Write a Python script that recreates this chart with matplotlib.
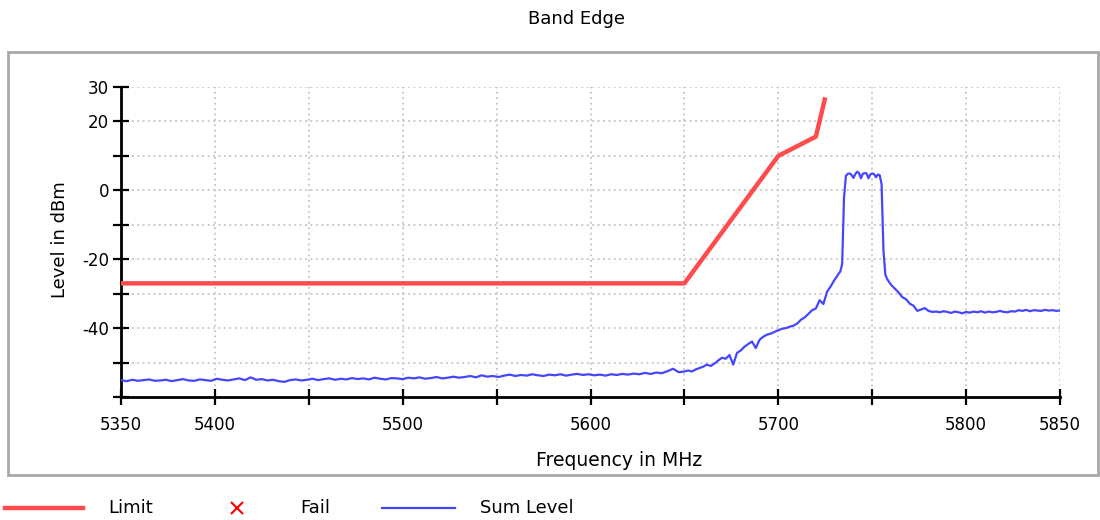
import matplotlib
matplotlib.use('Agg')
import matplotlib.pyplot as plt
import numpy as np
from matplotlib.lines import Line2D
from matplotlib.patches import Rectangle

RED = '#ff4b4b'
BLUE = '#4646ff'
GRID = '#c4c4c4'
BOX = '#a8a8a8'

plt.rcParams['font.family'] = 'DejaVu Sans'

# limit line
limit_freq = [5350, 5650, 5700, 5720, 5725]
limit_level = [-27, -27, 10, 15.6, 27]

freq_a = np.arange(5350, 5651, 3)
level_a = [-55.1, -55.4, -55.0, -55.3, -55.1, -54.9, -55.3, -55.2, -55.0, -55.4,
           -55.1, -54.8, -55.2, -55.3, -54.9, -55.1, -55.3, -54.7, -55.0, -55.2,
           -54.9, -54.6, -55.1, -54.3, -55.0, -54.8, -55.2, -55.0, -55.4, -55.6,
           -55.1, -54.9, -55.2, -55.0, -54.7, -55.1, -54.8, -54.6, -55.0, -54.7,
           -54.9, -54.5, -54.8, -54.6, -54.9, -54.4, -54.7, -54.9, -54.5, -54.6,
           -54.8, -54.4, -54.6, -54.3, -54.7, -54.5, -54.2, -54.6, -54.4, -54.1,
           -54.4, -54.2, -53.9, -54.3, -53.7, -54.1, -53.9, -54.2, -53.8, -53.5,
           -53.9, -53.6, -53.8, -53.4, -53.7, -53.9, -53.5, -53.7, -53.4, -53.8,
           -53.5, -53.3, -53.6, -53.4, -53.7, -53.5, -53.8, -53.4, -53.6, -53.3,
           -53.5, -53.2, -53.4, -53.0, -53.3, -52.9, -53.1, -52.5, -51.8, -52.8,
           -52.6]

freq_b = np.arange(5652, 5731, 2)
level_b = [-52.3, -52.6, -52.0, -51.6, -51.2, -50.6, -51.0, -50.3, -49.4, -48.6,
           -48.9, -47.8, -50.6, -47.2, -46.5, -45.4, -44.6, -43.9, -45.8, -43.4,
           -42.5, -41.9, -41.6, -41.1, -40.6, -40.2, -40.0, -39.6, -39.3, -38.7,
           -37.6, -36.9, -35.9, -34.8, -34.3, -31.9, -33.0, -29.4, -27.8, -25.9]

freq_c = np.arange(5731, 5761, 1)
level_c = [-25.2, -24.3, -23.6, -21.4, -2.0, 4.2, 4.8, 4.9, 4.5, 3.6,
           4.7, 5.4, 5.0, 3.5, 4.8, 5.0, 4.9, 3.5, 4.6, 4.9,
           4.7, 3.8, 4.6, 4.4, 1.8, -17.5, -24.5, -25.8, -26.6, -27.4]

freq_d = np.arange(5762, 5851, 2)
level_d = [-28.5, -29.6, -31.0, -31.6, -32.9, -33.5, -35.0, -34.6, -34.2, -35.0,
           -35.3, -35.2, -35.4, -35.1, -35.3, -35.6, -35.2, -35.4, -35.7, -35.3,
           -35.5, -35.2, -35.4, -35.1, -35.5, -35.2, -35.4, -35.3, -35.0, -35.3,
           -35.4, -35.1, -35.2, -34.8, -35.0, -34.7, -35.1, -34.8, -34.9, -35.0,
           -34.7, -34.9, -34.8, -35.0, -34.9]

sum_freq = np.concatenate([freq_a, freq_b, freq_c, freq_d])
sum_level = np.concatenate([level_a, level_b, level_c, level_d])

x_labels = {5350: '5350', 5400: '5400', 5500: '5500', 5600: '5600',
            5700: '5700', 5800: '5800', 5850: '5850'}
y_labels = {30: '30', 20: '20', 0: '0', -20: '-20', -40: '-40'}

W, H = 1100, 520
fig = plt.figure(figsize=(11, 5.2), dpi=100)
fig.patch.set_facecolor('white')

# outer frame
fig.add_artist(Rectangle((8 / W, 1 - 475 / H), 1090 / W, 423 / H,
                         transform=fig.transFigure, fill=False,
                         edgecolor=BOX, linewidth=2))

ax = fig.add_axes([121 / W, 1 - 397 / H, 939 / W, 310 / H])
ax.plot(sum_freq, sum_level, color=BLUE, linewidth=1.6, zorder=3)
ax.plot(limit_freq, limit_level, color=RED, linewidth=3.2,
        solid_capstyle='butt', zorder=4)

ax.set_xlim(5350, 5850)
ax.set_ylim(-60, 30)

xt = np.arange(5350, 5851, 50)
ax.set_xticks(xt)
ax.set_xticklabels([x_labels.get(int(v), '') for v in xt])
yt = np.arange(-60, 31, 10)
ax.set_yticks(yt)
ax.set_yticklabels([y_labels.get(int(v), '') for v in yt])
ax.tick_params(direction='inout', length=11, width=1.6, labelsize=12,
               colors='black')
ax.tick_params(axis='x', pad=8)
ax.tick_params(axis='y', pad=3)

ax.grid(True, linestyle=(0, (1, 2)), color=GRID, linewidth=1.3)
ax.set_axisbelow(True)
for s in ['top', 'right']:
    ax.spines[s].set_visible(False)
for s in ['left', 'bottom']:
    ax.spines[s].set_linewidth(2)
    ax.spines[s].set_color('black')

ax.set_xlabel('Frequency in MHz', fontsize=13.5, va='center')
ax.xaxis.set_label_coords((619 - 121) / 939, -(461 - 397) / 310)
ax.set_ylabel('Level in dBm', fontsize=13, va='center')
ax.yaxis.set_label_coords((60 - 121) / 939, (397 - 240) / 310)

fig.text(577 / W, 1 - 19 / H, 'Band Edge', ha='center', va='center',
         fontsize=13)

# legend row under the frame
ly = 1 - 508 / H
fig.add_artist(Line2D([5 / W, 83 / W], [ly, ly], color=RED, linewidth=3.2,
                      transform=fig.transFigure))
fig.text(108 / W, ly, 'Limit', va='center', fontsize=13)
fig.add_artist(Line2D([237 / W], [ly], marker='x', color='red', markersize=9,
                      markeredgewidth=1.5, linestyle='none',
                      transform=fig.transFigure))
fig.text(300 / W, ly, 'Fail', va='center', fontsize=13)
fig.add_artist(Line2D([382 / W, 455 / W], [ly, ly], color=BLUE, linewidth=1.6,
                      transform=fig.transFigure))
fig.text(480 / W, ly, 'Sum Level', va='center', fontsize=13)

fig.savefig('out.png', dpi=100, facecolor='white')
plt.close(fig)
